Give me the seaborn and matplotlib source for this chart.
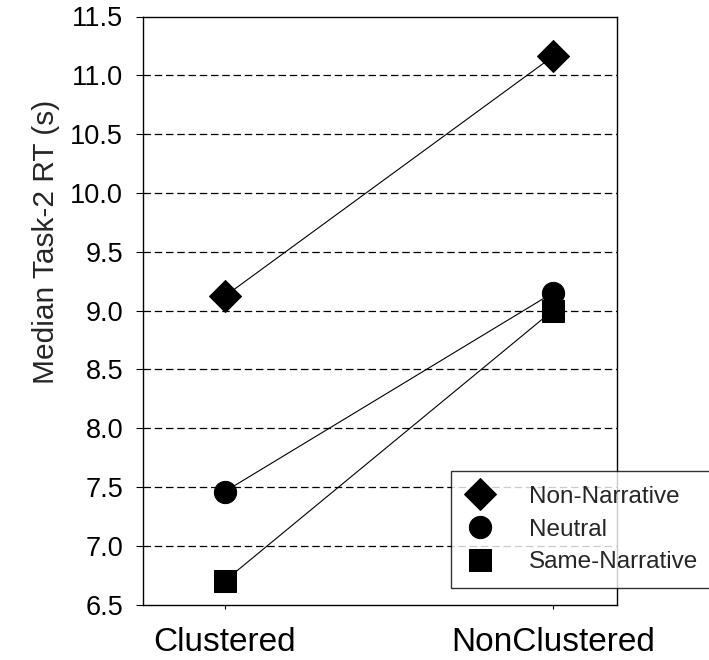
import pandas as pd
import matplotlib
matplotlib.use("Agg")
import matplotlib.pyplot as plt
import seaborn as sns

# data
conditions = ['Clustered', 'NonClustered']
non_narrative = [9.12, 11.16]
neutral = [7.46, 9.15]
same_narrative = [6.70, 9.00]
groups = ['Non-Narrative', 'Neutral', 'Same-Narrative']

df = pd.DataFrame({
    'Condition': conditions * 3,
    'RT': non_narrative + neutral + same_narrative,
    'Group': [g for g in groups for _ in conditions],
})

sns.set_style("white")
plt.rcParams['font.family'] = ['Liberation Sans', 'DejaVu Sans']

fig = plt.figure(figsize=(7.09, 6.60), dpi=100)
ax = fig.add_axes([0.201, 0.084, 0.669, 0.891])

sns.lineplot(
    data=df, x='Condition', y='RT', style='Group', units='Group',
    estimator=None, markers={'Non-Narrative': 'D', 'Neutral': 'o', 'Same-Narrative': 's'},
    dashes=False, color='black', linewidth=0.8, markersize=16,
    markeredgecolor='black', ax=ax, legend=True, zorder=3,
)

ax.set_xlim(-0.25, 1.195)
ax.set_ylim(6.5, 11.5)
ax.set_yticks([6.5 + 0.5 * i for i in range(11)])
ax.set_yticklabels([f'{6.5 + 0.5 * i:.1f}' for i in range(11)])

# dashed grid lines at inner ticks
for v in [7.0 + 0.5 * i for i in range(9)]:
    ax.axhline(v, color='black', linestyle=(0, (6, 3)), linewidth=0.9, zorder=1)

for s in ax.spines.values():
    s.set_color('black')
    s.set_linewidth(1.0)

ax.tick_params(axis='y', direction='out', length=5, width=0.8, pad=9,
               labelsize=19.5, left=True, colors='black')
ax.tick_params(axis='x', direction='out', length=3, width=0.8, pad=13,
               labelsize=24, bottom=True, colors='black')
ax.set_xlabel('')
ax.set_ylabel('Median Task-2 RT (s)', fontsize=21.5)
ax.yaxis.set_label_coords(-0.174, 0.617)

handles, labels = ax.get_legend_handles_labels()
leg = ax.legend(
    handles, labels, loc='lower left', bbox_to_anchor=(0.636, 0.109),
    bbox_transform=fig.transFigure, fontsize=17.5, frameon=True, fancybox=False,
    edgecolor='black', borderaxespad=0, handlelength=1.2, handletextpad=1.4,
    labelspacing=0.45, borderpad=0.6,
)
leg.get_frame().set_linewidth(1.0)
leg.set_zorder(5)
for h in leg.legend_handles:
    h.set_linestyle('none')

fig.savefig('out.png', dpi=100)
